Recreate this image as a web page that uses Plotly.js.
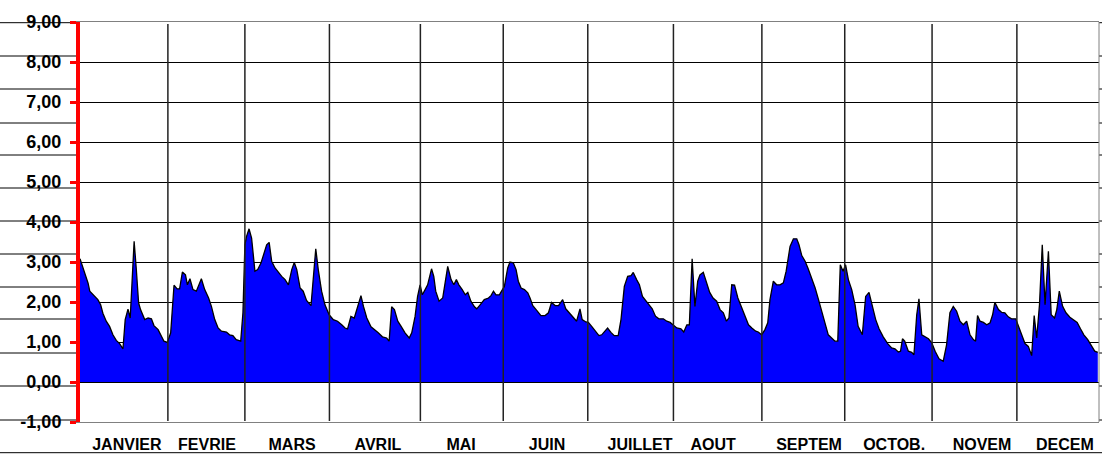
<!DOCTYPE html>
<html>
<head>
<meta charset="utf-8">
<script src="https://cdn.plot.ly/plotly-3.0.1.min.js"></script>
<style>html,body{margin:0;padding:0;background:#fff;}#chart{width:1102px;height:462px;}</style>
</head>
<body>
<div id="chart"></div>
<script>
// ---- data (day of year, value) ----
const days = [0,1.7,2.9,3.5,4.7,6.4,7.4,8.2,9.4,10.6,11.8,13,14.2,15.4,16.2,17.2,18,19.4,20.2,21,21.7,23.2,24.4,25.6,26.5,28,29.2,30.1,31.3,32.5,33.7,34.8,35.7,36.7,37.8,38.5,39.4,40.5,41.7,42.5,43.5,44.7,46.1,47.1,48.3,49.5,50.7,52.5,53.6,54.8,56,57.6,58.4,59.1,59.7,60.6,61.5,62.7,63.7,64.9,66.1,66.9,67.8,68.7,69.9,71.1,72.3,73.5,74.7,75.9,76.8,77.7,78.9,80,81.2,82.8,83.6,84.5,85.4,86.6,87.8,89.3,90.8,92.3,93.8,95,95.9,97.1,98.3,99.8,100.7,101.6,102.8,104.3,105.7,106.9,108.4,109.9,110.8,111.7,112.7,113.9,115.1,116.5,118,118.9,120.1,121,121.9,122.7,123.7,124.6,126,126.8,127.5,128.7,130,130.8,131.8,133,134,134.9,135.8,137,138.1,139,140.1,141.4,142.2,143.4,144.9,146.4,147.3,148.2,149.1,150.3,151.2,152.1,153.3,154.1,155.3,156.3,157.1,158.1,159.3,160.5,161.3,162.3,163.7,165.2,166.7,167.9,169,170.3,171.5,173,174.1,175.6,176.8,178,179.2,180,181.3,182.2,183.4,184.6,186,187,188.2,189.1,190.3,191.5,192.9,193.9,195.1,196.3,197.5,198.3,199.5,200.5,201.6,202.8,204,205.1,206.3,207.5,209.1,210.3,211.5,212.7,213.9,215.4,216.4,217.5,218.4,219.4,220.4,221.4,222.2,223.4,224.6,225.7,226.9,228.2,229.4,230.6,231.7,232.6,233.6,234.6,235.8,237,238.1,239.6,240.8,242.2,243.1,244.3,245.5,246.5,247.3,248.5,249.7,250.9,252.1,253.1,254.5,255.7,256.9,257.7,258.7,259.9,261,262.3,263.5,264.7,265.8,267,268.2,269.4,270.6,271.6,272.5,273.5,274.4,275.4,276.6,277.8,278.9,280.4,281.6,282.8,284,285.2,286.4,287.9,289.5,290.9,292.1,293.3,294.1,294.8,295.6,296.9,298.1,298.9,299.9,300.7,301.7,303.1,304.1,305.3,306.5,307.9,309.4,310.6,311.8,313,314.2,315.4,316.6,317.8,319,320.2,321,321.7,322.6,323.8,325,326.2,327.1,327.9,329.2,330.4,331.5,332.7,333.9,335.4,336.4,337.5,338.7,339.9,341.1,342,342.9,343.9,344.9,345.9,347.1,348.1,349.3,350.1,351,352.2,353.4,354.8,356.1,357.4,358.6,359.8,361.2,362.4,363.7,364.8];
const values = [3.08,2.72,2.47,2.27,2.18,2.06,1.93,1.72,1.52,1.39,1.18,1.04,0.96,0.83,1.56,1.82,1.6,3.52,2.8,1.98,1.81,1.56,1.6,1.58,1.41,1.31,1.14,1.02,0.99,1.23,2.42,2.33,2.33,2.75,2.68,2.43,2.58,2.31,2.27,2.39,2.58,2.31,2.1,1.89,1.56,1.35,1.27,1.25,1.18,1.16,1.06,1.02,1.73,3.43,3.64,3.83,3.6,2.77,2.81,2.98,3.23,3.43,3.49,3.02,2.85,2.73,2.64,2.56,2.43,2.81,2.99,2.81,2.35,2.27,2.04,1.91,2.56,3.33,2.81,2.27,1.93,1.68,1.56,1.52,1.43,1.35,1.33,1.64,1.6,1.93,2.16,1.89,1.6,1.38,1.31,1.23,1.13,1.1,1.02,1.88,1.81,1.52,1.39,1.23,1.1,1.23,1.64,2.14,2.43,2.18,2.31,2.43,2.83,2.64,2.27,2.02,2.1,2.43,2.89,2.56,2.43,2.56,2.43,2.31,2.18,2.24,2.02,1.88,1.83,1.93,2.06,2.1,2.16,2.27,2.18,2.18,2.27,2.39,2.85,3.0,2.98,2.81,2.52,2.35,2.31,2.23,2.1,1.91,1.79,1.66,1.66,1.73,1.99,1.91,1.91,2.06,1.83,1.7,1.6,1.52,1.83,1.56,1.5,1.49,1.39,1.27,1.16,1.18,1.29,1.35,1.24,1.16,1.16,1.56,2.39,2.64,2.66,2.74,2.56,2.43,2.14,2.04,1.93,1.83,1.64,1.58,1.58,1.52,1.49,1.43,1.35,1.33,1.25,1.43,1.43,3.08,1.89,2.52,2.68,2.74,2.48,2.24,2.1,2.02,1.81,1.73,1.52,1.6,2.43,2.42,2.1,1.88,1.68,1.43,1.35,1.27,1.25,1.18,1.31,1.48,2.06,2.52,2.43,2.43,2.48,2.77,3.39,3.58,3.58,3.43,3.16,3.02,2.83,2.6,2.35,2.06,1.77,1.43,1.18,1.1,1.02,1.02,2.93,2.77,2.93,2.56,2.31,1.93,1.39,1.18,2.14,2.24,1.89,1.56,1.33,1.13,0.96,0.85,0.83,0.75,0.77,1.08,1.02,0.77,0.74,0.68,1.68,2.08,1.18,1.13,1.08,0.98,0.77,0.58,0.52,0.93,1.73,1.89,1.77,1.52,1.43,1.52,1.18,1.06,1.02,1.66,1.52,1.49,1.43,1.48,1.68,1.99,1.81,1.74,1.73,1.63,1.58,1.58,1.39,1.18,0.96,0.89,0.66,1.66,1.1,1.93,3.43,1.93,3.27,1.68,1.6,1.81,2.27,1.89,1.73,1.62,1.56,1.49,1.33,1.18,1.06,0.91,0.77,0.74];

const monthNames = ['JANVIER','FEVRIE','MARS','AVRIL','MAI','JUIN','JUILLET','AOUT','SEPTEM','OCTOB.','NOVEM','DECEM'];
const monthLabelDays = [16.8,45.5,76,106.8,136.6,167.4,200.7,226.9,261.3,291.8,323.3,353.0];
const monthBoundaryDays = [31.5,59.1,89.4,122,151.7,182,212.7,244.4,274.1,305.4,335.8];
const yTickVals = [-1,0,1,2,3,4,5,6,7,8,9];
const yTickText = ['-1,00','0,00','1,00','2,00','3,00','4,00','5,00','6,00','7,00','8,00','9,00'];
// faint background grid of the underlying sheet (pixel rows)
const sheetRowsPx = [22.7,56,89,123,155,188,221,254,287,319,353,386,420];
const sheetBottomPx = 452.7;

const W = 1102, H = 462, ML = 80, MR = 3, MT = 22, MB = 40;
const PW = W - ML - MR, PH = H - MT - MB;
const py = p => (H - MB - p) / PH;
const px = p => (p - ML) / PW;

const shapes = [];
sheetRowsPx.forEach(r => {
  shapes.push({type:'line', xref:'paper', yref:'paper', x0:px(0), x1:px(76), y0:py(r), y1:py(r), line:{color:'#000', width:1}, layer:'below'});
  shapes.push({type:'line', xref:'paper', yref:'paper', x0:1, x1:px(1102), y0:py(r), y1:py(r), line:{color:'#000', width:1}});
});
shapes.push({type:'line', xref:'paper', yref:'paper', x0:px(0), x1:px(1102), y0:py(sheetBottomPx), y1:py(sheetBottomPx), line:{color:'#000', width:1}});
shapes.push({type:'line', xref:'paper', yref:'paper', x0:1, x1:1, y0:0, y1:1, line:{color:'#808080', width:1}});
monthBoundaryDays.forEach(d => {
  shapes.push({type:'line', xref:'x', yref:'paper', x0:d, x1:d, y0:py(421), y1:py(24), line:{color:'#222', width:1.5}, layer:'above'});
});

const trace = {
  x: days, y: values, type:'scatter', mode:'lines',
  line:{color:'#000', width:1.3}, fill:'tozeroy', fillcolor:'#0000ff',
  hoverinfo:'skip'
};

const layout = {
  width:W, height:H,
  margin:{l:ML, r:MR, t:MT, b:MB, pad:0},
  paper_bgcolor:'#fff', plot_bgcolor:'#fff',
  showlegend:false,
  font:{family:'Arial, "Liberation Sans", sans-serif', color:'#000'},
  xaxis:{range:[0, PW/2.79], tickmode:'array', tickvals:monthLabelDays, ticktext:monthNames,
         ticks:'', showgrid:false, zeroline:false, showline:true, linecolor:'#808080', linewidth:1, mirror:true,
         tickfont:{size:16, weight:'bold', color:'#000'}, ticklabelstandoff:8, fixedrange:true},
  yaxis:{range:[-1,9], tickmode:'array', tickvals:yTickVals, ticktext:yTickText,
         showgrid:true, gridcolor:'#000', gridwidth:1, zeroline:true, zerolinecolor:'#000', zerolinewidth:1,
         showline:true, linecolor:'#ff0000', linewidth:4, ticks:'outside', tickcolor:'#ff0000', tickwidth:3, ticklen:6,
         tickfont:{size:18, weight:'bold', color:'#000'}, ticklabelstandoff:5, fixedrange:true},
  shapes: shapes
};

Plotly.newPlot('chart', [trace], layout, {displayModeBar:false, staticPlot:true});
</script>
</body>
</html>
